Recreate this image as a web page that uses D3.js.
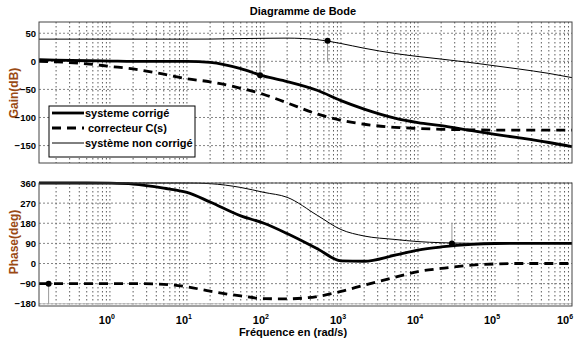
<!DOCTYPE html>
<html>
<head>
<meta charset="utf-8">
<script src="https://cdn.jsdelivr.net/npm/d3@7"></script>
<style>
  body { margin: 0; background: #fff; }
  text { font-family: "Liberation Sans", Arial, sans-serif; font-weight: bold; }
</style>
</head>
<body>
<script>
// frequencies (rad/s) and readings
const freq = [0.12, 0.2, 0.5, 1, 2, 5, 10, 20, 50, 100, 200, 500, 1e3, 2e3, 5e3, 1e4, 2e4, 5e4, 1e5, 2e5, 5e5, 1e6];

const gainCorrige = [3, 2, 1, 0.5, 0, 0, 0, -2, -13, -26.5, -36, -52, -70, -85, -101, -109, -114.5, -123.5, -130, -136, -144.5, -152];
const gainCorrecteur = [0, -1, -4.5, -9, -13.5, -23, -31, -36.5, -48, -59, -74, -94, -105, -112, -117.5, -119.5, -121, -122, -122.5, -122.5, -122.5, -122.5];
const gainNonCorrige = [39.5, 39.5, 39.5, 39.5, 39.5, 39.5, 39.5, 39.6, 40.5, 41, 41.3, 38.5, 31.7, 23.3, 14, 8.6, 4, -2.5, -8, -13.5, -21.5, -29];

const phaseCorrige = [360, 360, 360, 359, 355, 337, 318, 275, 213, 180, 134, 65, 12, 10, 37, 60, 74, 86, 89.5, 90, 90, 90];
const phaseCorrecteur = [-90, -90, -90, -90, -90, -93, -104, -124, -145, -157, -158, -147, -125, -97, -62, -36, -22, -7, -2, 0, 0, 0];
const phaseNonCorrige = [360, 360, 360, 360, 360, 360, 360, 357, 340, 318, 296, 214, 152, 123, 107.6, 98, 93, 90.5, 90, 90, 90, 90];

const gainTicks = [50, 0, -50, -100, -150];
const phaseTicks = [360, 270, 180, 90, 0, -90, -180];
const freqTicks = [1, 10, 100, 1e3, 1e4, 1e5, 1e6];

// margin markers: [freq, value, stem end]
const gainMarks = [[670, 36.6, 0], [89, -24.6, 0]];
const phaseMarks = [[0.16, -90, -180], [2.76e4, 90, 180]];

const legendLabels = ['systeme corrigé', 'correcteur C(s)', 'système non corrigé'];

const width = 574;
const height = 338;
const left = 39, right = 572;

const svg = d3.select('body').append('svg')
    .attr('width', width)
    .attr('height', height);

const x = d3.scaleLog().domain([0.12, 1e6]).range([left, right]);
const yG = d3.scaleLinear().domain([-181, 70]).range([163, 22]);
const yP = d3.scaleLinear().domain([-190, 360]).range([306, 183]);

const minor = [];
for (let e = -1; e <= 5; e++) {
  for (let k = 1; k <= 9; k++) {
    const v = k * Math.pow(10, e);
    if (v >= 0.12 && v <= 1e6) minor.push(v);
  }
}

const styles = [
  {w: 2.8, dash: null},
  {w: 2.8, dash: '9,6'},
  {w: 1, dash: null}
];

function panel(y, ticks, series, marks, label, labelY, grey180) {
  const g = svg.append('g');
  const [y0, y1] = y.range();

  g.selectAll('.vg').data(minor).enter().append('line')
      .attr('x1', d => x(d)).attr('x2', d => x(d))
      .attr('y1', y1).attr('y2', y0)
      .attr('stroke', '#333').attr('stroke-width', 0.8)
      .attr('stroke-dasharray', '1.5,2.5');

  g.selectAll('.hg').data(ticks).enter().append('line')
      .attr('x1', left).attr('x2', right)
      .attr('y1', d => y(d)).attr('y2', d => y(d))
      .attr('stroke', '#666').attr('stroke-width', 0.8)
      .attr('stroke-dasharray', '2,2');

  if (grey180) {
    g.append('line')
        .attr('x1', left).attr('x2', right)
        .attr('y1', y(-180)).attr('y2', y(-180))
        .attr('stroke', '#bbb').attr('stroke-width', 1);
  }

  // stems
  g.selectAll('.stem').data(marks).enter().append('line')
      .attr('x1', d => x(d[0])).attr('x2', d => x(d[0]))
      .attr('y1', d => y(d[1])).attr('y2', d => y(d[2]))
      .attr('stroke', '#999').attr('stroke-width', 1);

  const line = d3.line()
      .x((d, i) => x(freq[i]))
      .y(d => y(d))
      .curve(d3.curveMonotoneX);

  series.forEach((s, i) => {
    g.append('path')
        .attr('d', line(s))
        .attr('fill', 'none')
        .attr('stroke', '#000')
        .attr('stroke-width', styles[i].w)
        .attr('stroke-dasharray', styles[i].dash);
  });

  g.selectAll('.mk').data(marks).enter().append('circle')
      .attr('cx', d => x(d[0])).attr('cy', d => y(d[1]))
      .attr('r', 3).attr('fill', '#000');

  g.append('rect')
      .attr('x', left).attr('y', y1)
      .attr('width', right - left).attr('height', y0 - y1)
      .attr('fill', 'none').attr('stroke', '#444').attr('stroke-width', 1);

  svg.append('text')
      .attr('transform', `translate(18,${labelY}) rotate(-90)`)
      .attr('text-anchor', 'middle')
      .attr('font-size', 12)
      .attr('fill', '#9a4a14')
      .text(label);

  const ax = svg.append('g')
      .attr('transform', `translate(${left},0)`)
      .call(d3.axisLeft(y).tickValues(ticks).tickSize(0).tickPadding(3));
  ax.select('.domain').remove();
  ax.selectAll('text')
      .attr('font-size', 9.5)
      .attr('font-family', '"Liberation Sans", Arial, sans-serif')
      .attr('font-weight', 'bold')
      .attr('fill', '#000');
  return g;
}

panel(yG, gainTicks, [gainCorrige, gainCorrecteur, gainNonCorrige], gainMarks, 'Gain(dB)', 93, false);
panel(yP, phaseTicks, [phaseCorrige, phaseCorrecteur, phaseNonCorrige], phaseMarks, 'Phase(deg)', 242, true);

// x tick labels
const xl = svg.append('g').selectAll('text').data(freqTicks).enter().append('text')
    .attr('x', d => Math.min(x(d) - 3, 565))
    .attr('y', 324)
    .attr('text-anchor', 'middle')
    .attr('font-size', 11);
xl.append('tspan').text('10');
xl.append('tspan')
    .attr('dy', -5)
    .attr('font-size', 7)
    .text(d => Math.round(Math.log10(d)));

svg.append('text')
    .attr('x', 293).attr('y', 336)
    .attr('text-anchor', 'middle')
    .attr('font-size', 11)
    .text('Fréquence en (rad/s)');

svg.append('text')
    .attr('x', 303).attr('y', 15)
    .attr('text-anchor', 'middle')
    .attr('font-size', 11)
    .text('Diagramme de Bode');

// legend
const lg = svg.append('g');
lg.append('rect')
    .attr('x', 49).attr('y', 106).attr('width', 146).attr('height', 51)
    .attr('fill', '#fff').attr('stroke', '#000').attr('stroke-width', 1);
legendLabels.forEach((t, i) => {
  const yy = 113 + i * 15;
  lg.append('line')
      .attr('x1', 52).attr('x2', 84)
      .attr('y1', yy).attr('y2', yy)
      .attr('stroke', '#000')
      .attr('stroke-width', styles[i].w)
      .attr('stroke-dasharray', styles[i].dash);
  lg.append('text')
      .attr('x', i === 1 ? 88 : 85).attr('y', yy + 4)
      .attr('font-size', 11)
      .text(t);
});
</script>
</body>
</html>
